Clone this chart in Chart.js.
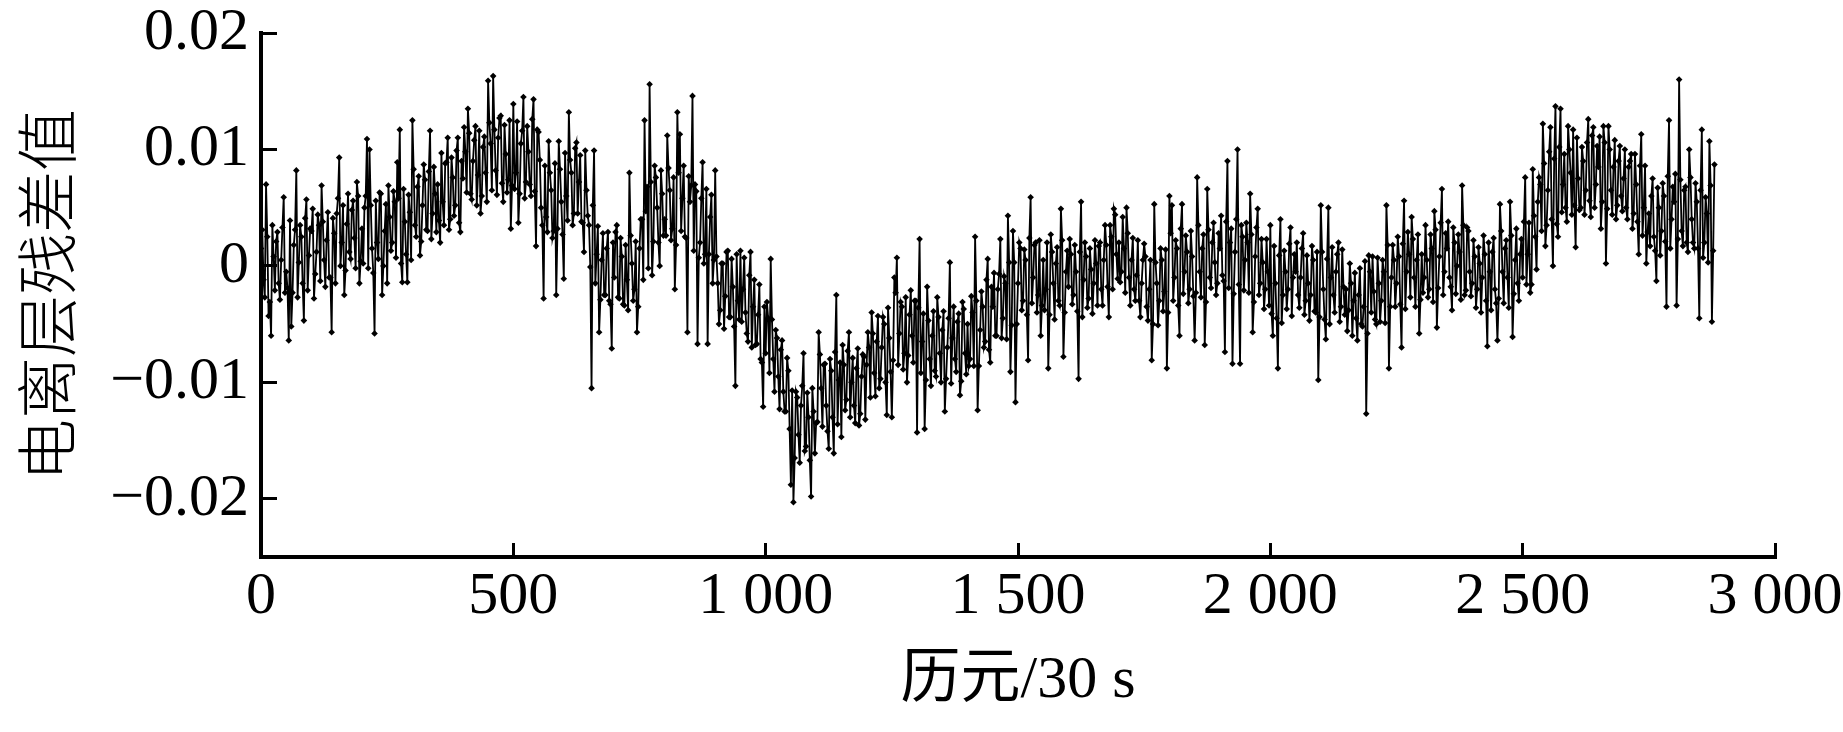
<!DOCTYPE html>
<html>
<head>
<meta charset="utf-8">
<script src="https://cdn.jsdelivr.net/npm/chart.js@4.4.1/dist/chart.umd.min.js"></script>
<style>
html,body{margin:0;padding:0;background:#fff;}
#wrap{width:1843px;height:732px;position:relative;}
</style>
</head>
<body>
<div id="wrap"><canvas id="c"></canvas></div>
<script>
// Sampling step of the epoch axis (epochs of 30 s)
const EPOCH_STEP = 5;

// Ionospheric residual values, in units of 0.001, at epochs 0, 5, 10, ...
const residualMilli = [
 1.5,-1.2,7.0,-4.3,-6.0,0.8,2.1,-1.5,0.5,5.9,
 -0.5,-6.4,-5.2,1.8,8.2,0.3,2.5,-4.7,5.7,0.9,
 3.0,-2.8,1.2,3.5,6.9,0.5,2.2,-1.0,-5.7,2.8,
 4.5,9.3,2.0,-2.5,3.6,1.2,4.8,2.4,7.2,-1.5,
 3.2,5.0,10.9,10.0,1.5,-5.8,2.0,6.3,-2.5,3.0,
 -1.5,4.2,2.0,5.5,8.9,11.7,-1.4,3.8,-1.4,4.6,
 12.5,3.5,6.8,0.9,5.2,7.4,3.0,11.6,4.5,6.2,
 7.0,2.0,5.5,8.8,11.0,4.0,7.6,5.2,11.0,2.9,
 7.5,9.8,13.5,6.2,9.0,12.0,7.8,4.5,10.2,8.0,
 15.9,10.5,16.3,8.2,11.0,12.9,5.5,9.6,7.4,3.2,
 13.9,8.0,3.7,10.5,14.5,7.2,9.8,6.0,14.3,1.7,
 11.5,5.0,-2.8,4.2,10.7,6.5,3.0,-2.5,10.7,5.5,
 -1.1,6.0,13.2,8.0,4.5,10.6,7.2,3.8,1.2,6.5,
 3.5,-10.5,9.9,1.0,-5.7,0.5,-2.5,1.5,-3.0,-7.1,
 -1.0,3.5,-2.8,0.8,-3.4,-1.2,8.0,0.2,-2.0,-5.7,
 1.5,4.0,12.5,6.8,15.6,-0.8,8.6,5.0,0.0,6.2,
 4.0,11.2,6.5,3.2,-2.0,13.2,11.3,5.8,2.5,-5.7,
 5.5,14.6,7.0,-6.7,2.0,8.9,1.0,-6.7,4.2,-1.5,
 8.2,-1.5,-3.8,0.2,-2.6,1.3,-4.4,-1.8,-10.3,-3.0,
 1.3,-2.0,-4.0,-6.5,1.2,-3.5,-6.8,-4.2,-8.0,-12.1,
 -7.5,-4.5,0.6,-8.0,-5.5,-9.5,-7.2,-10.8,-12.5,-9.0,
 -18.8,-20.3,-10.8,-14.5,-12.0,-7.5,-15.5,-13.0,-19.8,-12.5,
 -13.5,-5.7,-10.5,-8.5,-12.0,-15.7,-9.0,-16.1,-2.5,-9.8,
 -14.7,-8.5,-11.5,-5.7,-10.0,-12.0,-8.8,-13.7,-9.5,-7.8,
 -8.5,-7.0,-4.0,-9.2,-6.5,-10.5,-7.0,-5.0,-12.8,-6.2,
 -13.0,-1.0,0.7,-5.8,-3.5,-7.5,-10.0,-4.2,-6.0,-3.0,
 -14.3,2.3,-6.5,-14.0,-1.8,-8.0,-6.0,-9.0,-2.7,-7.5,
 -5.5,-12.5,-7.0,0.3,-6.2,-8.0,-4.8,-11.1,-3.1,-7.5,
 -5.0,-8.0,-4.0,2.5,-12.4,-5.5,-3.5,-6.5,0.6,-8.3,
 -3.5,-6.0,-2.0,2.3,-4.5,-1.5,4.3,-9.1,3.0,-11.7,
 -1.5,1.5,-3.0,0.5,-8.1,5.9,-1.0,2.0,-2.5,-6.0,
 0.5,-2.0,-8.8,2.7,-1.5,0.2,-3.0,4.9,-7.8,-0.5,
 -1.8,1.0,-2.5,-0.5,-9.7,5.5,-1.2,0.8,-2.8,-0.3,
 -1.5,0.2,1.7,-2.0,0.5,1.8,-4.4,2.5,4.9,1.0,
 2.0,-0.5,1.5,5.0,-1.0,0.5,-2.0,-0.8,-3.0,-1.5,
 1.9,-3.5,-2.0,-8.1,5.3,-1.5,-3.0,0.5,-2.2,-8.8,
 6.0,5.2,-1.0,1.5,-6.0,5.3,-0.5,1.2,-2.0,0.8,
 -6.4,7.6,-0.5,1.5,-6.8,6.6,-1.0,2.0,0.3,-1.5,
 1.5,-0.8,-7.4,9.0,2.0,-8.4,1.2,10.0,-8.4,2.5,
 0.5,2.0,6.2,-5.7,0.8,4.9,-1.5,0.3,-2.0,-0.5,
 3.5,-6.0,-1.5,-8.8,4.0,-2.5,-0.5,-2.0,3.3,-1.0,
 -0.5,-2.5,-1.0,2.8,-3.0,-1.5,-2.5,0.5,-4.0,-9.8,
 5.2,-2.0,-6.3,5.0,-1.0,-2.5,-0.5,2.0,-3.5,-1.8,
 -2.0,-3.8,-1.5,-3.0,-4.5,-2.5,-5.0,-3.5,-12.7,0.9,
 -4.0,-2.2,-5.0,-1.5,-3.0,-0.5,5.2,-8.8,-1.0,0.5,
 -1.5,0.8,-7.0,5.6,-0.5,1.0,4.2,-1.0,0.5,-5.8,
 1.0,-1.0,0.5,-2.0,1.5,4.7,-5.3,0.8,6.6,-0.5,
 1.5,-1.0,-3.8,2.0,0.0,1.2,6.9,-2.5,3.3,-0.5,
 -1.5,0.8,-2.0,0.2,-1.0,1.0,-6.9,-0.5,1.2,-2.0,
 -6.4,5.3,-0.5,1.5,-1.0,5.5,-6.1,0.5,-1.5,1.0,
 -1.0,7.6,1.0,-2.3,8.3,2.5,5.5,7.0,12.2,1.7,
 6.5,11.9,0.0,13.7,2.5,13.5,7.0,5.0,12.0,8.0,
 11.7,1.6,7.5,5.0,9.0,6.5,12.6,4.2,11.9,7.0,
 8.5,3.2,12.0,0.2,12.0,6.5,8.5,4.0,9.0,6.0,
 7.5,5.0,8.5,9.6,4.5,7.0,1.0,11.3,5.0,0.2,
 4.5,6.0,2.5,-1.3,5.0,3.0,6.0,-3.5,12.5,4.0,
 5.5,-3.4,16.0,3.0,6.5,2.0,10.0,4.0,1.5,5.5,
 -4.5,11.7,2.0,4.5,10.7,-4.8,8.7
];

// Residual values (units of 0.001) at the in-between epochs 2.5, 7.5, 12.5, ... (dense core of the band)
const residualMidMilli = [
 3.1,-2.7,2.5,-3.1,3.5,-2.1,2.9,-2.9,3.3,-2.3,
 -1.9,3.9,-2.3,3.1,-2.7,3.5,-1.5,4.1,-2.1,3.2,
 4.9,-0.7,4.4,-1.3,3.8,-1.8,4.6,-1.0,4.1,-1.5,
 5.8,0.0,5.2,-0.4,6.2,0.6,5.6,-0.2,6.0,0.4,
 0.2,6.0,-0.2,5.2,-0.6,5.6,0.6,6.2,0.0,5.3,
 6.9,1.3,6.4,0.7,5.8,0.2,6.6,1.0,6.1,0.5,
 8.3,2.5,7.7,2.1,8.7,3.1,8.1,2.3,8.5,2.9,
 3.9,9.7,3.5,8.9,3.1,9.3,4.3,9.9,3.7,9.0,
 11.9,6.3,11.4,5.7,10.8,5.2,11.6,6.0,11.1,5.5,
 12.3,6.5,11.7,6.1,12.7,7.1,12.1,6.3,12.5,6.9,
 6.6,12.4,6.2,11.6,5.8,12.0,7.0,12.6,6.4,11.7,
 9.1,3.5,8.6,2.9,8.0,2.4,8.8,3.2,8.3,2.7,
 9.7,3.9,9.1,3.5,10.1,4.5,9.5,3.7,9.9,4.3,
 -0.1,5.2,-1.5,3.4,-2.9,2.8,-2.5,2.9,-3.3,2.0,
 2.9,-2.7,2.4,-3.3,1.8,-3.8,2.6,-3.0,2.1,-3.5,
 4.0,-1.2,4.7,-0.2,7.2,2.1,7.6,2.0,8.2,2.6,
 2.6,8.4,2.2,7.6,1.8,8.0,3.0,8.6,2.4,7.7,
 6.9,1.3,6.4,0.7,5.8,0.2,6.6,1.0,6.1,0.5,
 0.8,-5.0,0.2,-5.4,1.2,-4.4,0.6,-5.2,1.0,-4.6,
 -4.8,0.7,-5.8,-0.8,-7.0,-1.2,-6.7,-1.6,-8.3,-3.5,
 -3.1,-9.2,-4.6,-10.8,-6.2,-12.3,-6.4,-12.5,-7.9,-14.0,
 -10.7,-16.5,-11.3,-16.9,-10.3,-15.9,-10.9,-16.7,-10.5,-16.1,
 -13.4,-7.6,-13.8,-8.4,-14.2,-8.0,-13.0,-7.4,-13.6,-8.3,
 -6.8,-12.4,-7.3,-13.0,-7.9,-13.5,-7.1,-12.7,-7.6,-13.2,
 -5.7,-11.3,-5.8,-11.2,-4.3,-9.7,-4.4,-10.0,-3.6,-9.1,
 -8.1,-2.3,-8.5,-3.1,-8.9,-2.7,-7.7,-2.1,-8.3,-3.0,
 -3.6,-9.2,-4.1,-9.8,-4.7,-10.3,-3.9,-9.5,-4.4,-10.0,
 -3.9,-9.7,-4.5,-10.1,-3.5,-9.1,-4.1,-9.9,-3.7,-9.3,
 -8.6,-2.6,-8.6,-3.0,-8.6,-2.2,-7.0,-1.2,-7.2,-1.8,
 -0.6,-6.0,-0.7,-6.2,-0.9,-6.3,0.3,-5.1,0.3,-5.0,
 2.0,-3.8,1.4,-4.2,2.4,-3.2,1.8,-4.0,2.2,-3.4,
 -3.8,2.0,-4.2,1.2,-4.6,1.6,-3.4,2.2,-4.0,1.3,
 2.3,-3.3,1.8,-3.9,1.2,-4.4,2.0,-3.6,1.5,-4.1,
 2.2,-3.4,2.0,-3.4,3.5,-1.8,3.5,-2.0,4.4,-1.1,
 -1.4,4.2,-2.3,2.8,-3.4,2.4,-3.0,2.2,-4.4,0.5,
 0.8,-4.7,0.5,-5.0,0.3,-5.1,1.5,-3.9,1.4,-4.0,
 2.8,-3.0,2.2,-3.4,3.2,-2.4,2.6,-3.2,3.0,-2.6,
 -2.3,3.5,-2.7,2.7,-3.1,3.1,-1.9,3.7,-2.5,2.8,
 4.3,-1.3,3.8,-1.9,3.2,-2.4,4.0,-1.6,3.5,-2.1,
 3.7,-2.3,2.7,-3.1,3.3,-2.5,2.3,-3.7,2.3,-3.4,
 -4.1,1.7,-4.5,0.9,-4.9,1.3,-3.7,1.9,-4.3,1.0,
 2.0,-3.6,1.5,-4.2,0.9,-4.7,1.7,-3.9,1.2,-4.4,
 1.2,-4.6,0.6,-5.0,1.6,-4.0,1.0,-4.8,1.4,-4.2,
 -5.6,0.2,-6.0,-0.6,-6.4,-0.2,-5.2,0.4,-5.8,-0.5,
 0.8,-4.6,0.7,-4.8,0.5,-4.9,1.8,-3.5,1.8,-3.5,
 2.5,-3.3,1.9,-3.7,2.9,-2.7,2.3,-3.5,2.7,-2.9,
 -2.3,3.5,-2.7,2.7,-3.1,3.1,-1.9,3.7,-2.5,2.8,
 3.8,-1.8,3.3,-2.4,2.7,-2.9,3.5,-2.1,3.0,-2.6,
 2.2,-3.6,1.6,-4.0,2.6,-3.0,2.0,-3.8,2.4,-3.2,
 -2.8,3.0,-3.2,2.2,-3.6,2.6,-2.4,3.2,-3.0,2.3,
 3.8,-1.6,3.7,-1.6,4.3,-0.3,7.6,3.0,8.8,3.5,
 9.8,4.0,9.2,3.6,10.2,4.6,9.6,3.8,10.0,4.4,
 5.2,11.0,4.8,10.2,4.4,10.6,5.6,11.2,5.0,10.3,
 11.1,5.5,10.6,4.9,10.0,4.4,10.8,5.2,10.3,4.7,
 10.0,4.0,9.0,3.2,9.6,3.8,8.6,2.6,8.6,2.9,
 1.7,7.5,1.3,6.7,0.9,7.1,2.1,7.7,1.5,6.8,
 7.9,2.3,7.4,1.7,6.8,1.2,7.6,2.0,7.1,1.5,
 6.5,0.7,5.9,0.3,6.9,1.3
];

// Axis ticks and labels
const xTickValues = [0, 500, 1000, 1500, 2000, 2500, 3000];
const xTickLabels = ['0', '500', '1 000', '1 500', '2 000', '2 500', '3 000'];
const yTickValues = [-0.02, -0.01, 0, 0.01, 0.02];
const yTickLabels = ['\u22120.02', '\u22120.01', '0', '0.01', '0.02'];
const xTitle = '历元/30 s';
const yTitle = '电离层残差值';

const SERIF = "'Liberation Serif', 'Times New Roman', 'Noto Sans CJK SC', serif";
const CJK = "'Noto Sans CJK SC', 'Liberation Serif', sans-serif";

const points = residualMilli.map((v, i) => ({ x: i * EPOCH_STEP, y: v / 1000 }))
  .concat(residualMidMilli.map((v, i) => ({ x: i * EPOCH_STEP + EPOCH_STEP / 2, y: v / 1000 })))
  .sort((a, b) => a.x - b.x);

new Chart(document.getElementById('c'), {
  type: 'line',
  data: {
    datasets: [{
      data: points,
      borderColor: '#000',
      borderWidth: 1.8,
      pointStyle: 'rectRot',
      pointRadius: 3.3,
      pointBackgroundColor: '#000',
      pointBorderColor: '#000',
      pointBorderWidth: 0,
      tension: 0,
      fill: false
    }]
  },
  options: {
    responsive: true,
    maintainAspectRatio: false,
    animation: false,
    events: [],
    layout: { padding: { top: 33, right: 68, bottom: 0, left: 0 } },
    plugins: { legend: { display: false }, tooltip: { enabled: false } },
    scales: {
      x: {
        type: 'linear',
        min: 0,
        max: 3000,
        afterFit(s) { s.height = 175; s.paddingLeft = 0; s.paddingRight = 0; },
        afterBuildTicks(s) { s.ticks = xTickValues.map(v => ({ value: v })); },
        ticks: {
          autoSkip: false,
          maxRotation: 0,
          padding: 24,
          color: '#000',
          font: { family: SERIF, size: 60, lineHeight: 1 },
          callback: (v, i) => xTickLabels[i]
        },
        grid: { drawOnChartArea: false, drawTicks: true, tickLength: -14, tickWidth: 3, color: '#000' },
        border: { display: true, color: '#000', width: 4 },
        title: {
          display: true, text: xTitle, color: '#000',
          font: { family: SERIF, size: 60, lineHeight: 1.2 },
          padding: { top: 0, bottom: 15 }
        }
      },
      y: {
        min: -0.025,
        max: 0.02,
        afterFit(s) { s.width = 261; s.paddingTop = 0; s.paddingBottom = 0; },
        afterBuildTicks(s) { s.ticks = yTickValues.map(v => ({ value: v })); },
        ticks: {
          padding: 28,
          color: '#000',
          font: { family: SERIF, size: 60, lineHeight: 1 },
          callback: (v, i) => yTickLabels[i]
        },
        grid: { drawOnChartArea: false, drawTicks: true, tickLength: -16, tickWidth: 3, color: '#000' },
        border: { display: true, color: '#000', width: 4 },
        title: {
          display: true, text: yTitle, color: '#000',
          font: { family: CJK, size: 62, weight: '300', lineHeight: 1.2 },
          padding: { top: 10, bottom: 0 }
        }
      }
    }
  }
});
</script>
</body>
</html>
